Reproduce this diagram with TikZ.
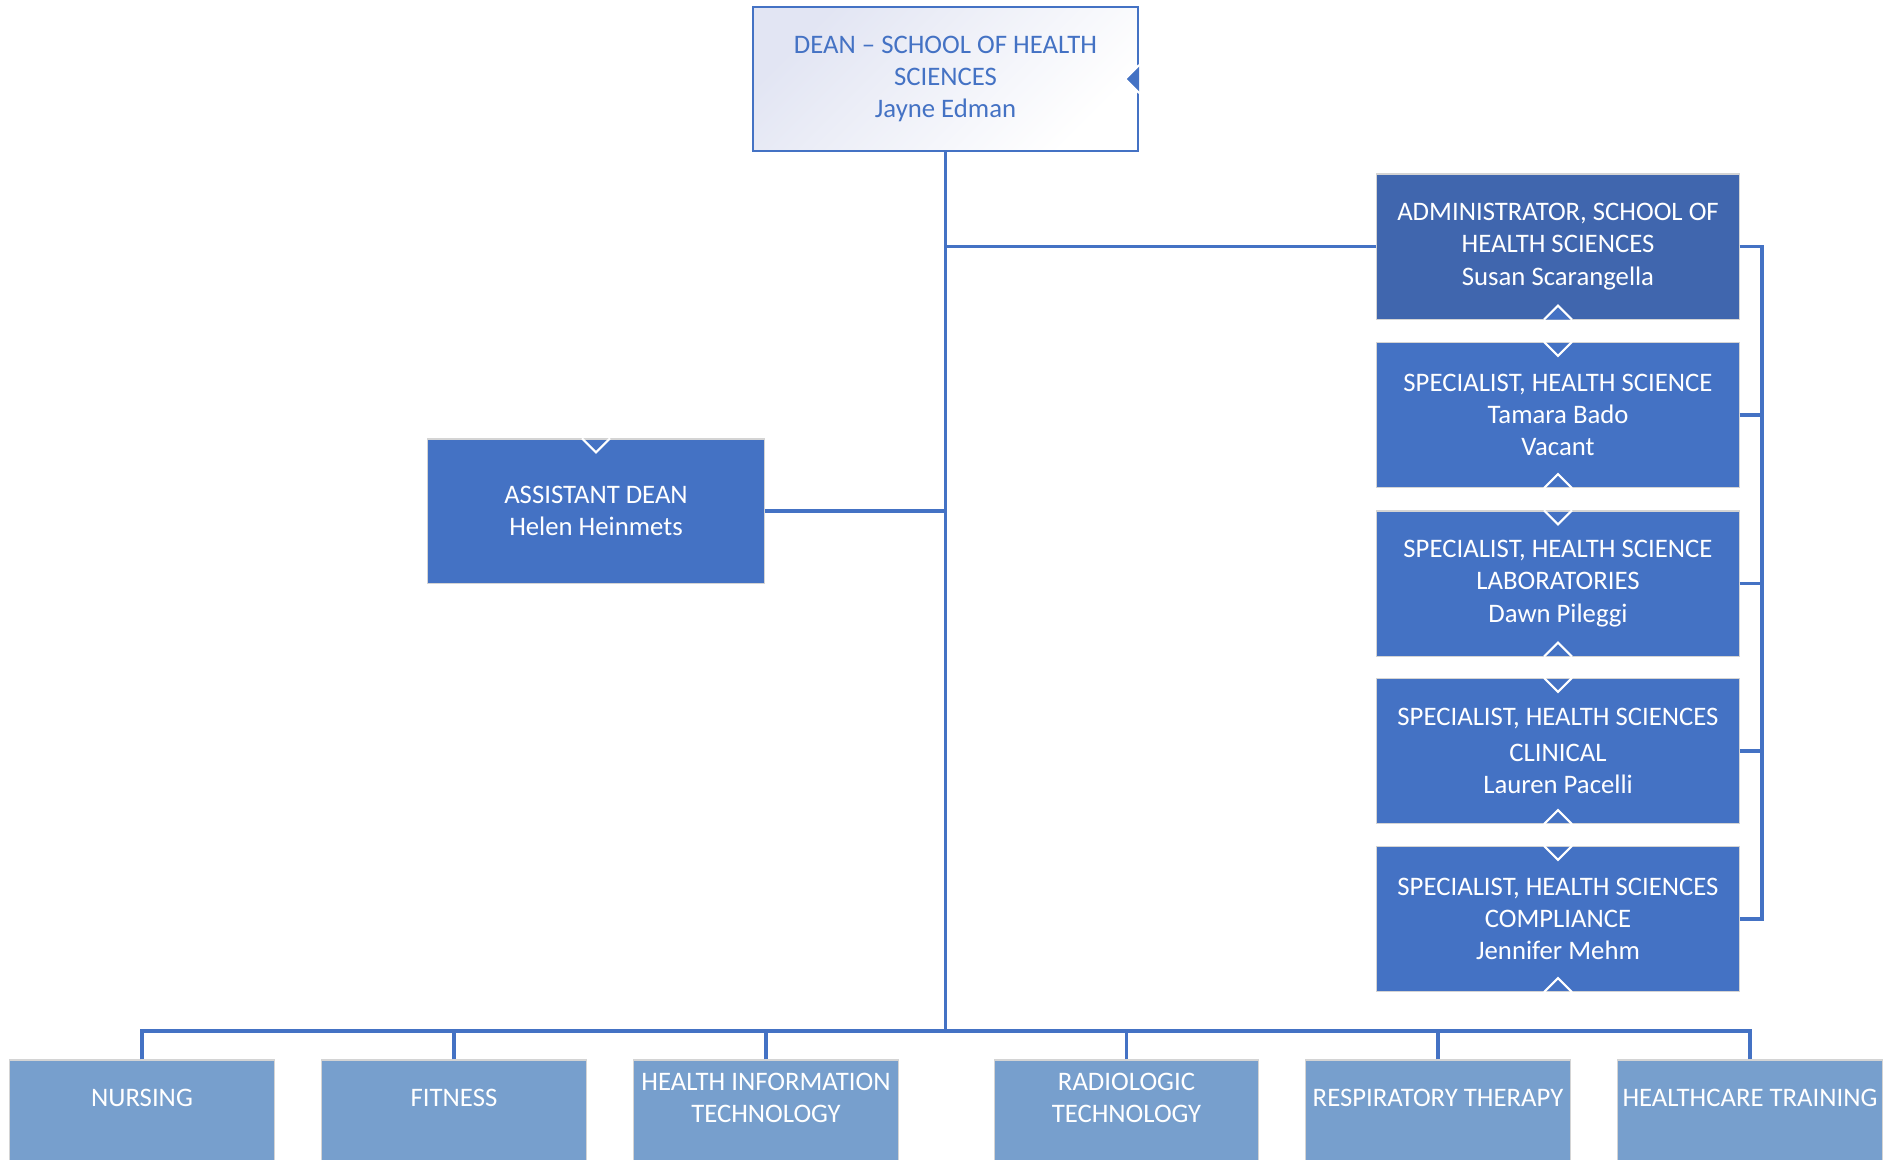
\documentclass[tikz,border=0pt]{standalone}
\usepackage{fontspec}
\setmainfont{Carlito}
\definecolor{orgblue}{HTML}{4472C4}
\definecolor{admblue}{HTML}{4066AE}
\definecolor{deptblue}{HTML}{779FCD}
\definecolor{deanshade}{HTML}{E2E5F3}
\definecolor{boxedge}{HTML}{D4D4D4}
\begin{document}
\begin{tikzpicture}[x=0.01cm,y=-0.01cm,
  font=\fontsize{7.6pt}{9.2pt}\selectfont,
  head/.style={rectangle,draw=orgblue,line width=0.6pt,top color=deanshade,bottom color=white,shading angle=45,
    text=orgblue,align=center,minimum width=3.85cm,minimum height=1.44cm,inner sep=0pt},
  post/.style={rectangle,fill=orgblue,draw=boxedge,line width=0.3pt,text=white,align=center,
    minimum width=3.62cm,minimum height=1.45cm,inner sep=0pt},
  dept/.style={rectangle,fill=deptblue,draw=boxedge,line width=0.3pt,minimum width=2.64cm,minimum height=1cm,inner sep=0pt},
  depttext/.style={text=white,align=center,inner sep=0pt},
  link/.style={draw=orgblue,line width=0.9pt},
  chev/.style={draw=white,line width=0.6pt}]
\useasboundingbox (0,0) rectangle (1897,1159);
%top
\node[head] (dean) at (945.5,79) {DEAN – SCHOOL OF HEALTH\\SCIENCES\\Jayne Edman};
\node[post,fill=admblue] (admin) at (1558,246.5) {ADMINISTRATOR, SCHOOL OF\\HEALTH SCIENCES\\Susan Scarangella};
\node[post] (specA) at (1558,415) {SPECIALIST, HEALTH SCIENCE\\Tamara Bado\\Vacant};
\node[post] (specB) at (1558,583.5) {SPECIALIST, HEALTH SCIENCE\\LABORATORIES\\Dawn Pileggi};
\node[post] (specC) at (1558,751) {SPECIALIST, HEALTH SCIENCES\\[1pt]CLINICAL\\Lauren Pacelli};
\node[post] (specD) at (1558,919) {SPECIALIST, HEALTH SCIENCES\\COMPLIANCE\\Jennifer Mehm};
\node[post,minimum width=3.36cm,minimum height=1.44cm] (asst) at (596,511) {ASSISTANT DEAN\\Helen Heinmets};
%links
\coordinate (hub) at (dean.south |- 0,1031);
\coordinate (rbus) at (1762,0);
\draw[link] (dean.south) -- (hub);
\draw[link] (admin.west) -- (admin.west -| hub);
\draw[link] (asst.east) -- (asst.east -| hub);
\draw[link] (admin.east) -- (admin.east -| rbus) -- (specD.east -| rbus) -- (specD.east);
\foreach \n in {specA,specB,specC}
  \draw[link] (\n.east) -- (\n.east -| rbus);
%departments
\foreach \x/\n/\t in {142/nurs/NURSING,454/fit/FITNESS,766/hit/{HEALTH INFORMATION\\TECHNOLOGY},
    1126.5/rad/{RADIOLOGIC\\TECHNOLOGY},1438/resp/RESPIRATORY THERAPY,1750/hct/HEALTHCARE TRAINING}{
  \node[dept] (\n) at (\x,1110) {};
  \node[depttext] (\n-t) at (\x,1098) {\t};
  \draw[link] (\n.north) |- (hub);
}
%chevrons
\filldraw[chev,fill=orgblue] ([yshift=0.14cm]dean.east) -- ++(-14,14) -- ++(14,14);
\filldraw[chev,fill=orgblue] ([xshift=-0.14cm]admin.south) -- ++(14,-14) -- ++(14,14);
\foreach \n in {specA,specB,specC,specD}
  \draw[chev] ([xshift=-0.14cm]\n.south) -- ++(14,-14) -- ++(14,14);
\foreach \n in {asst,specA,specB,specC,specD}
  \draw[chev] ([xshift=-0.14cm]\n.north) -- ++(14,14) -- ++(14,-14);
\end{tikzpicture}
\end{document}
